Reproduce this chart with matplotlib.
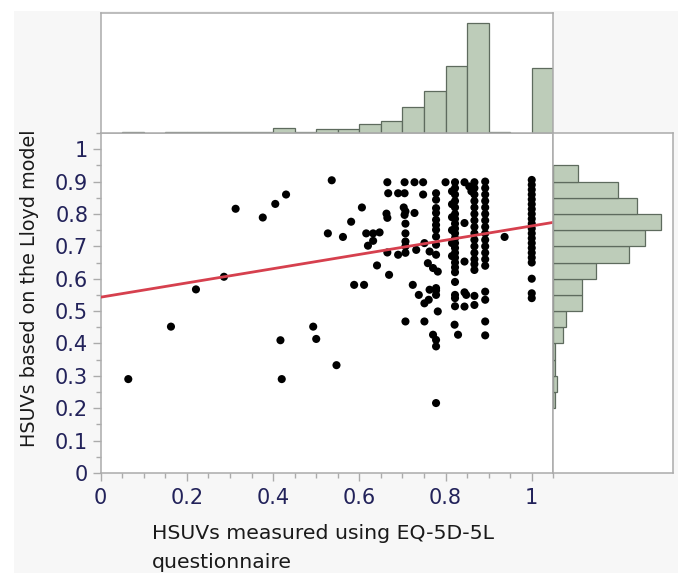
import numpy as np
import matplotlib
matplotlib.use("Agg")
import matplotlib.pyplot as plt
from matplotlib.patches import Rectangle
from matplotlib.ticker import MultipleLocator

# ---------------- data ----------------
# HSUVs measured using EQ-5D-5L (x) and HSUVs based on the Lloyd model (y)
eq5d = [
    0.064, 0.163, 0.221, 0.286, 0.313, 0.376, 0.405, 0.430, 0.417, 0.420,
    0.493, 0.500, 0.527, 0.536, 0.547, 0.562, 0.581, 0.588, 0.606, 0.611,
    0.616, 0.632, 0.647, 0.620, 0.632, 0.641, 0.669, 0.665, 0.663, 0.665,
    0.665, 0.667, 0.690, 0.690, 0.937,
    # column ~0.705
    0.705, 0.705, 0.703, 0.707, 0.705, 0.707, 0.707, 0.707, 0.707, 0.707, 0.707,
    # column ~0.728
    0.728, 0.728, 0.724, 0.732, 0.738,
    # column ~0.75
    0.748, 0.748, 0.751, 0.763, 0.759, 0.751, 0.761, 0.751, 0.763,
    # column ~0.778
    0.778, 0.778, 0.778, 0.778, 0.778, 0.778, 0.778, 0.778, 0.778, 0.778,
    0.782, 0.778, 0.778, 0.782, 0.771, 0.778, 0.778, 0.778, 0.771, 0.778,
    # column ~0.80
    0.800,
    # column ~0.822
    0.822, 0.822, 0.822, 0.822, 0.822, 0.822, 0.822, 0.822, 0.822, 0.822,
    0.822, 0.822, 0.822, 0.822, 0.822, 0.822, 0.822, 0.822, 0.822, 0.822,
    0.822, 0.822, 0.821, 0.829,
    0.815, 0.815, 0.815, 0.815, 0.815, 0.815,
    # column ~0.844
    0.844, 0.844, 0.844, 0.844, 0.844, 0.848,
    # column ~0.867
    0.867, 0.867, 0.867, 0.867, 0.867, 0.867, 0.867, 0.867, 0.867, 0.867,
    0.867, 0.867, 0.867, 0.867, 0.867, 0.867, 0.867, 0.860, 0.855,
    # column ~0.892
    0.892, 0.892, 0.892, 0.892, 0.892, 0.892, 0.892, 0.892, 0.892, 0.892,
    0.892, 0.892, 0.892, 0.892, 0.892, 0.892, 0.892, 0.892,
    # column 1.0
    1.0, 1.0, 1.0, 1.0, 1.0, 1.0, 1.0, 1.0, 1.0, 1.0,
    1.0, 1.0, 1.0, 1.0, 1.0, 1.0, 1.0, 1.0, 1.0, 1.0, 1.0,
]
lloyd = [
    0.290, 0.452, 0.567, 0.606, 0.816, 0.789, 0.831, 0.860, 0.410, 0.290,
    0.452, 0.414, 0.740, 0.904, 0.333, 0.729, 0.776, 0.581, 0.820, 0.581,
    0.740, 0.740, 0.743, 0.702, 0.717, 0.641, 0.612, 0.681, 0.801, 0.788,
    0.898, 0.864, 0.864, 0.674, 0.729,
    # column ~0.705
    0.898, 0.864, 0.820, 0.808, 0.797, 0.770, 0.740, 0.715, 0.700, 0.680, 0.468,
    # column ~0.728
    0.898, 0.803, 0.581, 0.689, 0.550,
    # column ~0.75
    0.898, 0.860, 0.710, 0.684, 0.648, 0.524, 0.535, 0.468, 0.566,
    # column ~0.778
    0.864, 0.844, 0.818, 0.803, 0.782, 0.766, 0.751, 0.730, 0.705, 0.674,
    0.622, 0.571, 0.550, 0.499, 0.427, 0.411, 0.391, 0.216, 0.633, 0.564,
    # column ~0.80
    0.898,
    # column ~0.822
    0.898, 0.880, 0.860, 0.840, 0.820, 0.800, 0.785, 0.770, 0.755, 0.740,
    0.725, 0.710, 0.695, 0.680, 0.665, 0.650, 0.635, 0.620, 0.590, 0.550,
    0.540, 0.515, 0.458, 0.427,
    0.870, 0.830, 0.790, 0.750, 0.710, 0.670,
    # column ~0.844
    0.898, 0.772, 0.653, 0.558, 0.514, 0.550,
    # column ~0.867
    0.898, 0.880, 0.860, 0.840, 0.820, 0.800, 0.780, 0.760, 0.740, 0.720,
    0.700, 0.680, 0.660, 0.645, 0.627, 0.547, 0.519, 0.870, 0.885,
    # column ~0.892
    0.900, 0.880, 0.860, 0.840, 0.820, 0.800, 0.780, 0.760, 0.740, 0.720,
    0.700, 0.680, 0.660, 0.640, 0.560, 0.535, 0.468, 0.425,
    # column 1.0
    0.905, 0.890, 0.875, 0.860, 0.845, 0.830, 0.815, 0.800, 0.785, 0.770,
    0.755, 0.740, 0.725, 0.710, 0.695, 0.680, 0.665, 0.650, 0.600, 0.555, 0.540,
]

# fitted line
fit_intercept = 0.543
fit_slope = 0.220

# marginal histograms: lower bin edges and counts
bin_width = 0.05
top_bin_lo = [0.05, 0.10, 0.15, 0.20, 0.25, 0.30, 0.35, 0.40, 0.45, 0.50,
              0.55, 0.60, 0.65, 0.70, 0.75, 0.80, 0.85, 0.90, 0.95, 1.00]
top_counts = [1, 0, 1, 1, 1, 1, 1, 4, 1, 3,
              3, 7, 10, 21, 34, 54, 88, 1, 0, 52]
right_bin_lo = [0.20, 0.25, 0.30, 0.35, 0.40, 0.45, 0.50, 0.55, 0.60, 0.65,
                0.70, 0.75, 0.80, 0.85, 0.90]
right_counts = [1, 2, 1, 1, 5, 6, 14, 14, 21, 37, 45, 53, 41, 32, 12]

x_ticks = [0, 0.2, 0.4, 0.6, 0.8, 1.0]
x_tick_labels = ["0", "0.2", "0.4", "0.6", "0.8", "1"]
y_ticks = [0, 0.1, 0.2, 0.3, 0.4, 0.5, 0.6, 0.7, 0.8, 0.9, 1.0]
y_tick_labels = ["0", "0.1", "0.2", "0.3", "0.4", "0.5", "0.6", "0.7", "0.8", "0.9", "1"]

x_label = "HSUVs measured using EQ-5D-5L\nquestionnaire"
y_label = "HSUVs based on the Lloyd model"

# ---------------- styling ----------------
W, H = 678, 573
FRAME = "#ababab"
BAR_FILL = "#bdccb9"
BAR_EDGE = "#5e6b5e"
TICK_TXT = "#22225a"
LINE_RED = "#d6404e"

plt.rcParams["font.family"] = ["DejaVu Sans"]

fig = plt.figure(figsize=(W / 100, H / 100), dpi=100, facecolor="white")
fig.patches.append(Rectangle((14 / W, 0), 1 - 14 / W, 1 - 11 / H,
                             transform=fig.transFigure, facecolor="#f7f7f7",
                             edgecolor="none", zorder=-10))


def frac(l, t, r, b):
    return [l / W, 1 - b / H, (r - l) / W, (b - t) / H]


ax = fig.add_axes(frac(100.7, 133, 553.3, 473))
ax_top = fig.add_axes(frac(100.7, 13.3, 553.3, 133))
ax_right = fig.add_axes(frac(553.3, 133, 673.3, 473))

for a in (ax, ax_top, ax_right):
    a.set_facecolor("white")
    for s in a.spines.values():
        s.set_color(FRAME)
        s.set_linewidth(1.1)

# main scatter
ax.scatter(eq5d, lloyd, s=34, c="black", edgecolors="none", zorder=3)
xs = np.array([0.0, 1.05])
ax.plot(xs, fit_intercept + fit_slope * xs, color=LINE_RED, lw=2.0, zorder=4,
        solid_capstyle="butt")
ax.set_xlim(0, 1.05)
ax.set_ylim(0, 1.05)
ax.set_xticks(x_ticks)
ax.set_xticklabels(x_tick_labels)
ax.set_yticks(y_ticks)
ax.set_yticklabels(y_tick_labels)
ax.xaxis.set_minor_locator(MultipleLocator(0.05))
ax.yaxis.set_minor_locator(MultipleLocator(0.05))
ax.tick_params(axis="both", which="both", direction="out", color=FRAME, width=1.0,
               labelsize=15, labelcolor=TICK_TXT)
ax.tick_params(axis="both", which="major", length=5.5)
ax.tick_params(axis="both", which="minor", length=3.5)
ax.tick_params(axis="x", which="major", pad=5.5)
ax.tick_params(axis="y", which="major", pad=3.5)

# top histogram
tc = np.array(top_counts)
tb = np.array(top_bin_lo)
m = tc > 0
ax_top.bar(tb[m], tc[m], width=bin_width, align="edge", color=BAR_FILL,
           edgecolor=BAR_EDGE, linewidth=0.9)
ax_top.set_xlim(0, 1.05)
ax_top.set_ylim(0, 96)
ax_top.set_xticks([])
ax_top.set_yticks([])

# right histogram
rc = np.array(right_counts)
rb = np.array(right_bin_lo)
m = rc > 0
ax_right.barh(rb[m], rc[m], height=bin_width, align="edge", color=BAR_FILL,
              edgecolor=BAR_EDGE, linewidth=0.9)
ax_right.set_ylim(0, 1.05)
ax_right.set_xlim(0, 59)
ax_right.set_xticks([])
ax_right.set_yticks([])

# axis labels (two-line x label: the last line's baseline is anchored)
fig.text(151.7 / W, 1 - 568 / H, x_label, ha="left", va="baseline",
         fontsize=14.7, color="#1a1a1a", linespacing=1.65)
fig.text(29.5 / W, 1 - 288.4 / H, y_label, ha="center", va="center",
         rotation=90, fontsize=13.8, color="#1a1a1a")

fig.savefig("out.png", dpi=100, facecolor=fig.get_facecolor())
